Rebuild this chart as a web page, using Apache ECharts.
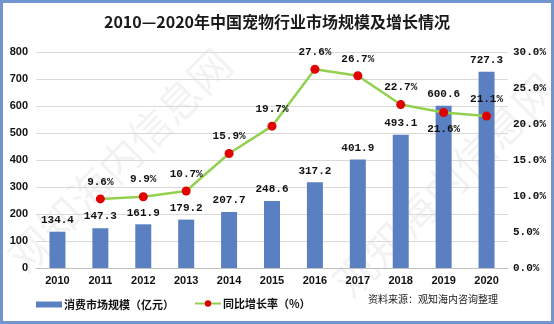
<!DOCTYPE html>
<html>
<head>
<meta charset="utf-8">
<script src="https://cdn.jsdelivr.net/npm/echarts@6/dist/echarts.min.js"></script>
<style>html,body{margin:0;padding:0;background:#fff}#c{width:554px;height:324px}</style>
</head>
<body>
<div id="c"></div>
<script>
var titleText = '2010—2020年中国宠物行业市场规模及增长情况';
var years = ['2010','2011','2012','2013','2014','2015','2016','2017','2018','2019','2020'];
var marketSize = [134.4,147.3,161.9,179.2,207.7,248.6,317.2,401.9,493.1,600.6,727.3];
var growthRate = ['-',9.6,9.9,10.7,15.9,19.7,27.6,26.7,22.7,21.6,21.1];
var leftTicks = [0,100,200,300,400,500,600,700,800];
var rightTicks = [0,5,10,15,20,25,30];
var barName = '消费市场规模（亿元）';
var lineName = '同比增长率（%）';
var sourceText = '资料来源：观知海内咨询整理';

var chart = echarts.init(document.getElementById('c'), null, {renderer:'canvas'});
var mono = '"Liberation Mono", monospace';
var cjk = '"Noto Sans CJK SC", sans-serif';
var lineData = growthRate.map(function(v, i){
  if (i === 9) return {value: v, label: {position: 'bottom'}};
  return v;
});
var option = {
  animation: false,
  backgroundColor: '#fff',
  title: {
    text: titleText, left: 'center', top: 9,
    textStyle: {fontFamily: cjk, fontSize: 16, fontWeight: 'bold', color: '#1a1a1a'}
  },
  grid: {left: 36, right: 46, top: 52, bottom: 56, containLabel: false},
  legend: [{
    data: [{name: barName, icon: 'rect'}],
    left: 31, top: 294, itemWidth: 26, itemHeight: 6,
    textStyle: {fontFamily: cjk, fontSize: 11, fontWeight: 'bold', color: '#111', padding: [0,0,0,-3]}
  },{
    data: [{name: lineName}],
    left: 189, top: 293, itemWidth: 26, itemHeight: 8,
    textStyle: {fontFamily: cjk, fontSize: 11, fontWeight: 'bold', color: '#111', padding: [0,0,0,-3]}
  }],
  xAxis: {
    type: 'category', data: years,
    axisLine: {lineStyle: {color: '#bfbfbf'}},
    axisTick: {show: false},
    axisLabel: {fontFamily: '"Liberation Sans", Arial', fontSize: 11, fontWeight: 'bold', color: '#111', margin: 7}
  },
  yAxis: [{
    type: 'value', min: leftTicks[0], max: leftTicks[leftTicks.length-1], interval: 100,
    axisLine: {show: false}, axisTick: {show: false},
    splitLine: {lineStyle: {color: '#d9d9d9'}},
    axisLabel: {fontFamily: '"Liberation Sans", Arial', fontSize: 11, fontWeight: 'bold', color: '#111', margin: 8}
  },{
    type: 'value', min: rightTicks[0], max: rightTicks[rightTicks.length-1], interval: 5,
    axisLine: {show: false}, axisTick: {show: false}, splitLine: {show: false},
    axisLabel: {fontFamily: mono, fontSize: 11, fontWeight: 'bold', color: '#111', margin: 5,
      formatter: function(v){return v.toFixed(1)+'%';}}
  }],
  series: [{
    name: barName, type: 'bar', data: marketSize, barWidth: 16,
    itemStyle: {color: '#5b80c2'},
    label: {show: true, position: 'top', distance: 6, fontFamily: mono, fontSize: 11, fontWeight: 'bold', color: '#111',
      formatter: function(p){return p.value.toFixed(1);}}
  },{
    name: lineName, type: 'line', yAxisIndex: 1, data: lineData,
    symbol: 'circle', symbolSize: 9,
    lineStyle: {color: '#92d050', width: 2.5},
    itemStyle: {color: '#e00000'},
    label: {show: true, position: 'top', distance: 7, fontFamily: mono, fontSize: 11, fontWeight: 'bold', color: '#111',
      formatter: function(p){return Number(p.value).toFixed(1)+'%';}},
    z: 5
  }],
  graphic: [
    {type: 'text', left: 368, top: 294, style: {text: sourceText, fontFamily: cjk, fontSize: 10, fill: '#222'}},
    {type: 'text', x: 120, y: 160, rotation: Math.PI/4,
      style: {text: '观知海内信息网', fontFamily: cjk, fontSize: 42, fill: 'rgba(0,0,0,0.05)', align: 'center', verticalAlign: 'middle'}, z: -1},
    {type: 'text', x: 445, y: 185, rotation: Math.PI/4,
      style: {text: '观知海内信息网', fontFamily: cjk, fontSize: 42, fill: 'rgba(0,0,0,0.05)', align: 'center', verticalAlign: 'middle'}, z: -1},
    {type: 'rect', shape: {x: 1.5, y: 1.5, width: 551, height: 321},
      style: {fill: 'none', stroke: '#7395cf', lineWidth: 3}, z: 100}
  ]
};
chart.setOption(option);
</script>
</body>
</html>
